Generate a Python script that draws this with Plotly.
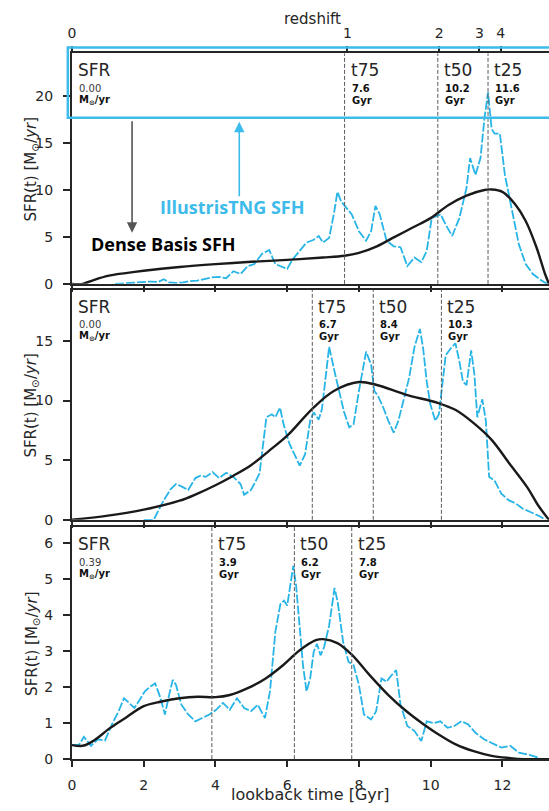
import plotly.graph_objects as go

# ---------------- data ----------------
# Panel 1
lb1_tng = [1.2, 1.4, 1.6, 1.8, 2.0, 2.2, 2.4, 2.56, 2.7, 2.9, 3.1, 3.3, 3.5, 3.7, 3.9, 4.1, 4.3,
           4.5, 4.7, 4.9, 5.08, 5.3, 5.5, 5.67, 5.87, 6.0, 6.15, 6.35, 6.54, 6.74, 6.88, 7.0,
           7.17, 7.3, 7.4, 7.5, 7.66, 7.8, 8.0, 8.2, 8.34, 8.46, 8.58, 8.77, 8.97, 9.16, 9.35,
           9.55, 9.74, 9.89, 10.03, 10.15, 10.28, 10.42, 10.6, 10.8, 11.0, 11.1, 11.25, 11.39,
           11.5, 11.6, 11.7, 11.78, 11.93, 12.07, 12.27, 12.46, 12.65, 12.85, 13.09, 13.25]
sfr1_tng = [0.0, 0.05, 0.1, 0.15, 0.2, 0.25, 0.2, 0.5, 0.15, 0.1, 0.15, 0.3, 0.35, 0.5, 0.7,
            0.75, 0.6, 1.35, 1.05, 1.9, 2.1, 3.2, 3.6, 2.1, 1.75, 1.6, 2.6, 3.5, 4.4, 4.7, 5.1,
            4.4, 4.9, 7.4, 9.8, 8.8, 8.1, 7.4, 5.6, 4.6, 5.6, 8.3, 7.4, 4.6, 4.0, 3.9, 1.9, 2.8,
            2.3, 3.5, 7.0, 7.2, 7.4, 6.3, 5.1, 7.0, 10.2, 13.4, 11.6, 13.4, 17.6, 20.4, 16.5,
            16.0, 16.0, 11.6, 7.7, 4.2, 2.1, 1.05, 0.35, 0.0]
lb1_db = [0.0, 0.3, 0.6, 1.0, 1.5, 2.0, 3.0, 4.0, 5.0, 6.0, 7.0, 7.6, 8.0, 8.5, 9.0, 9.5, 10.0,
          10.5, 11.0, 11.5, 11.7, 12.0, 12.35, 12.65, 12.95, 13.19, 13.3]
sfr1_db = [0.0, 0.0, 0.4, 0.85, 1.15, 1.4, 1.8, 2.1, 2.35, 2.55, 2.8, 3.0, 3.3, 4.0, 5.0, 6.0,
           7.0, 8.4, 9.4, 10.0, 10.05, 9.8, 8.5, 6.7, 3.9, 1.05, 0.0]

# Panel 2
lb2_tng = [2.0, 2.28, 2.37, 2.56, 2.76, 2.9, 3.05, 3.24, 3.44, 3.58, 3.73, 3.92, 4.1, 4.3, 4.5,
           4.7, 4.8, 4.99, 5.08, 5.23, 5.42, 5.57, 5.67, 5.8, 5.9, 6.06, 6.2, 6.35, 6.5, 6.64,
           6.74, 6.88, 6.97, 7.07, 7.17, 7.3, 7.44, 7.58, 7.73, 7.85, 8.0, 8.2, 8.34, 8.43, 8.53,
           8.68, 8.82, 8.97, 9.1, 9.26, 9.4, 9.55, 9.7, 9.79, 9.89, 9.99, 10.13, 10.23, 10.34,
           10.42, 10.57, 10.69, 10.8, 10.9, 11.0, 11.13, 11.22, 11.3, 11.44, 11.54, 11.63, 11.78,
           11.97, 12.17, 12.36, 12.56, 12.75, 13.04, 13.2]
sfr2_tng = [0.0, 0.0, 0.55, 1.65, 2.6, 3.0, 2.8, 2.5, 3.5, 3.7, 3.6, 4.0, 3.5, 3.95, 3.6, 3.0,
            2.1, 2.5, 3.0, 3.9, 8.6, 8.85, 8.6, 9.4, 8.0, 6.4, 5.5, 4.55, 5.5, 8.3, 9.0, 8.4,
            9.3, 11.9, 14.5, 12.7, 10.8, 9.1, 7.75, 8.0, 10.8, 14.1, 13.0, 10.8, 10.4, 9.4, 8.3,
            7.3, 8.3, 10.1, 11.9, 14.5, 16.0, 14.4, 11.6, 9.7, 8.3, 8.85, 11.6, 13.8, 14.4, 14.8,
            13.3, 11.6, 11.3, 14.2, 12.2, 8.6, 10.1, 8.3, 3.6, 3.3, 2.2, 1.65, 1.4, 0.95, 0.7,
            0.3, 0.0]
lb2_db = [0.0, 1.0, 2.0, 3.0, 3.5, 4.0, 4.5, 5.0, 5.5, 6.0, 6.7, 7.3, 8.0, 8.5, 9.3, 10.2,
          10.7, 11.2, 11.7, 12.2, 12.7, 13.0, 13.3]
sfr2_db = [0.0, 0.35, 0.85, 1.6, 2.2, 2.9, 3.7, 4.6, 5.8, 7.05, 9.3, 10.8, 11.55, 11.3, 10.5,
           9.8, 9.2, 8.1, 6.7, 4.7, 2.7, 1.2, 0.0]

# Panel 3
lb3_tng = [0.0, 0.2, 0.33, 0.53, 0.72, 0.92, 1.11, 1.3, 1.45, 1.6, 1.74, 1.89, 2.03, 2.18, 2.32,
           2.47, 2.59, 2.71, 2.81, 2.9, 3.05, 3.24, 3.44, 3.63, 3.83, 4.02, 4.21, 4.4, 4.6, 4.8,
           4.99, 5.18, 5.38, 5.52, 5.67, 5.81, 5.91, 6.0, 6.1, 6.17, 6.25, 6.35, 6.44, 6.54,
           6.64, 6.74, 6.83, 6.93, 7.03, 7.17, 7.32, 7.41, 7.56, 7.71, 7.85, 8.0, 8.14, 8.34,
           8.48, 8.63, 8.77, 8.92, 9.04, 9.16, 9.35, 9.55, 9.74, 9.89, 10.08, 10.27, 10.47,
           10.66, 10.86, 11.05, 11.25, 11.49, 11.68, 11.97, 12.22, 12.46, 12.75, 13.04]
sfr3_tng = [0.39, 0.4, 0.62, 0.37, 0.55, 0.52, 0.96, 1.33, 1.69, 1.56, 1.42, 1.65, 1.88, 2.01,
            2.1, 1.69, 1.24, 1.79, 2.2, 2.06, 1.51, 1.24, 1.05, 1.14, 1.24, 1.37, 1.56, 1.37,
            1.69, 1.42, 1.33, 1.51, 1.14, 1.88, 3.53, 4.3, 4.4, 4.26, 4.99, 5.36, 4.8, 3.62,
            2.61, 1.88, 2.24, 2.98, 3.2, 2.88, 3.11, 3.71, 4.75, 4.35, 3.25, 2.7, 2.61, 2.06,
            1.24, 1.1, 1.33, 2.24, 2.15, 2.34, 2.47, 1.51, 0.92, 0.78, 0.5, 1.05, 1.0, 1.05,
            0.87, 0.92, 1.05, 0.96, 0.73, 0.55, 0.46, 0.32, 0.37, 0.18, 0.12, 0.03]
lb3_db = [0.0, 0.3, 0.5, 0.78, 1.0, 1.27, 1.5, 2.0, 2.5, 3.0, 3.5, 4.0, 4.4, 4.9, 5.4, 5.9, 6.35,
          6.8, 7.0, 7.4, 7.8, 8.3, 8.8, 9.3, 9.8, 10.2, 10.7, 11.2, 11.7, 12.2, 12.6, 13.3]
sfr3_db = [0.39, 0.37, 0.45, 0.64, 0.82, 1.0, 1.15, 1.47, 1.6, 1.69, 1.73, 1.72, 1.78, 1.97,
           2.24, 2.62, 3.02, 3.3, 3.33, 3.22, 2.9, 2.33, 1.8, 1.35, 0.97, 0.7, 0.41, 0.22, 0.09,
           0.03, 0.0, 0.0]

# current SFR and quantile times per panel
sfr_now = ["0.00", "0.00", "0.39"]
t75 = [7.6, 6.7, 3.9]
t50 = [10.2, 8.4, 6.2]
t25 = [11.6, 10.3, 7.8]

# redshift ticks on the top axis (lookback time in Gyr)
z_labels = ["0", "1", "2", "3", "4"]
z_lookback = [0.0, 7.68, 10.24, 11.36, 11.95]

# ---------------- layout constants ----------------
W, H = 549, 811
X_LEFT = 68.5
X_MAX = 13.3
PANEL_PX = [(54.0, 286.7), (292.7, 525.0), (532.3, 766.7)]
Y_TOP = [24.53, 19.28, 6.44]
Y_TICKS = [[0, 5, 10, 15, 20], [0, 5, 10, 15], [0, 1, 2, 3, 4, 5, 6]]

CYAN = "#27b4e6"
CYAN_LIGHT = "#3dbbea"
INK = "#262626"
FONT = "DejaVu Sans"


def fx(p):
    return p / W


def fy(p):
    return 1 - p / H


def x_px(t):
    return X_LEFT + t / X_MAX * (W - X_LEFT)


fig = go.Figure()

series = [(lb1_tng, sfr1_tng, lb1_db, sfr1_db),
          (lb2_tng, sfr2_tng, lb2_db, sfr2_db),
          (lb3_tng, sfr3_tng, lb3_db, sfr3_db)]

for i, (xt, yt, xd, yd) in enumerate(series):
    xa = "x" if i == 0 else f"x{i+1}"
    ya = "y" if i == 0 else f"y{i+1}"
    fig.add_trace(go.Scatter(x=xt, y=yt, xaxis=xa, yaxis=ya, mode="lines",
                             line=dict(color=CYAN, width=1.8, dash="9px,2px"),
                             hoverinfo="skip"))
    fig.add_trace(go.Scatter(x=xd, y=yd, xaxis=xa, yaxis=ya, mode="lines",
                             line=dict(color="#1a1a1a", width=2.4, shape="spline", smoothing=1.0),
                             hoverinfo="skip"))

# invisible trace so the redshift axis is rendered
fig.add_trace(go.Scatter(x=[0], y=[0], xaxis="x4", yaxis="y", mode="markers",
                         marker=dict(opacity=0), hoverinfo="skip"))

axis_common = dict(showgrid=False, zeroline=False, showline=True, linecolor=INK, linewidth=2,
                   ticks="outside", ticklen=6, tickwidth=1.6, tickcolor=INK,
                   tickfont=dict(family=FONT, size=14, color=INK))

layout = dict(width=W, height=H, margin=dict(l=0, r=0, t=0, b=0),
              plot_bgcolor="white", paper_bgcolor="white", showlegend=False)

for i, (top, bot) in enumerate(PANEL_PX):
    xk = "xaxis" if i == 0 else f"xaxis{i+1}"
    yk = "yaxis" if i == 0 else f"yaxis{i+1}"
    ya = "y" if i == 0 else f"y{i+1}"
    xa = "x" if i == 0 else f"x{i+1}"
    layout[xk] = dict(axis_common, domain=[fx(X_LEFT), 1], range=[0, X_MAX], anchor=ya,
                      tickvals=[0, 2, 4, 6, 8, 10, 12], mirror=True,
                      showticklabels=(i == 2), ticklabelstandoff=6)
    layout[yk] = dict(axis_common, domain=[fy(bot), fy(top)], range=[0, Y_TOP[i]], anchor=xa,
                      tickvals=Y_TICKS[i], ticklen=7, ticklabelstandoff=7)

layout["xaxis4"] = dict(axis_common, overlaying="x", side="top", anchor="y", range=[0, X_MAX],
                        tickvals=z_lookback, ticktext=z_labels, showline=False,
                        ticklabelstandoff=3)

fig.update_layout(**layout)

shapes = []
annotations = []


def label(text, xp, yp, size, color=INK, family=FONT, xanchor="left", **kw):
    annotations.append(dict(text=text, x=fx(xp), y=fy(yp), xref="paper", yref="paper",
                            xanchor=xanchor, yanchor="middle", showarrow=False,
                            font=dict(family=family, size=size, color=color), **kw))


for i, (top, bot) in enumerate(PANEL_PX):
    xa = "x" if i == 0 else f"x{i+1}"
    ya = "y" if i == 0 else f"y{i+1}"
    for t in (t75[i], t50[i], t25[i]):
        shapes.append(dict(type="line", xref=xa, yref=f"{ya} domain", x0=t, x1=t, y0=0, y1=1,
                           line=dict(color="#5a5a5a", width=1, dash="4px,2px"), layer="above"))
    # current SFR block
    label("SFR", 73, top + 17, 17)
    label(sfr_now[i], 74, top + 35.4, 10, color="#3a3a3a")
    label("<b>M<sub>⊙</sub>/yr</b>", 74, top + 47.5, 10, color="#111111")
    # quantile times
    for name, t in (("t75", t75[i]), ("t50", t50[i]), ("t25", t25[i])):
        xl = x_px(t) + 4
        label(name, xl, top + 17, 17)
        label(f"<b>{t:.1f}</b>", xl + 1, top + 35.4, 10, color="#111111")
        label("<b>Gyr</b>", xl + 1, top + 47.5, 10, color="#111111")
    # y-axis title
    label("SFR(t) [M<sub>⊙</sub>/<i>yr</i>]", 28, (top + bot) / 2, 15, xanchor="center",
          textangle=-90)

# highlighted header box on the top panel
shapes.append(dict(type="rect", xref="paper", yref="paper", x0=fx(64.3), x1=1.02,
                   y0=fy(119), y1=fy(48), line=dict(color=CYAN_LIGHT, width=2.5),
                   fillcolor="rgba(0,0,0,0)", layer="above"))

# axis titles
label("redshift", 311, 19, 15, xanchor="center")
label("lookback time [Gyr]", 309, 802, 16, xanchor="center")

# callouts
label("<b>IllustrisTNG SFH</b>", 155, 209, 18, color=CYAN_LIGHT, family="Open Sans")
label("<b>Dense Basis SFH</b>", 86, 246, 18, color="#000000", family="Open Sans")
annotations.append(dict(x=fx(129), y=fy(235), xref="paper", yref="paper", ax=0, ay=-113,
                        text="", showarrow=True, arrowhead=2, arrowsize=1.3, arrowwidth=1.6,
                        arrowcolor="#555555"))
annotations.append(dict(x=fx(237), y=fy(123), xref="paper", yref="paper", ax=0, ay=76,
                        text="", showarrow=True, arrowhead=2, arrowsize=1.3, arrowwidth=1.6,
                        arrowcolor=CYAN_LIGHT))

fig.update_layout(shapes=shapes, annotations=annotations)

fig.write_html("out.html")
